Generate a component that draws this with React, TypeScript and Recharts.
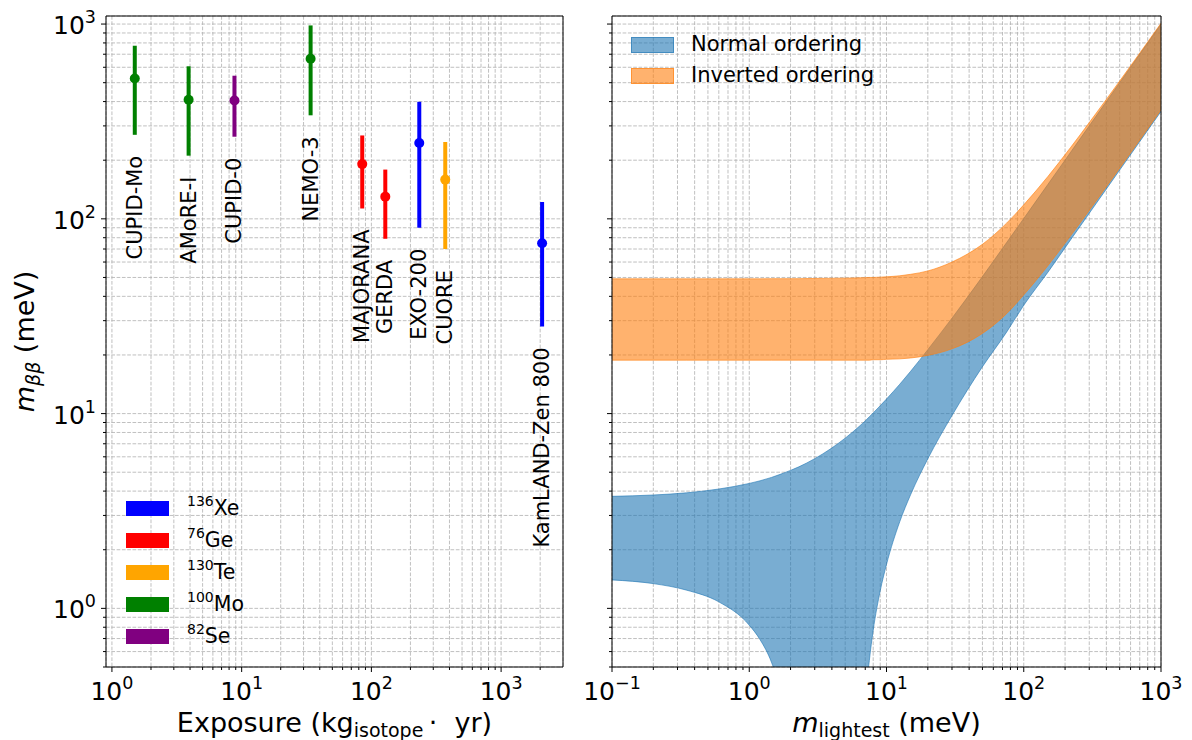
import {
  Area,
  CartesianGrid,
  ComposedChart,
  ErrorBar,
  Label,
  Legend,
  ReferenceLine,
  Scatter,
  ScatterChart,
  XAxis,
  YAxis,
} from 'recharts';

const FONT = '"DejaVu Sans", sans-serif';

// left panel: experiments
const experiments = ['CUPID-Mo', 'AMoRE-I', 'CUPID-0', 'NEMO-3', 'MAJORANA', 'GERDA', 'EXO-200', 'CUORE', 'KamLAND-Zen 800'];
const experimentIsotope = ['Mo', 'Mo', 'Se', 'Mo', 'Ge', 'Ge', 'Xe', 'Te', 'Xe'];
const exposure = [1.5, 3.9, 8.8, 34, 85, 128, 234, 371, 2070];
const mbbCentral = [525, 409, 405, 664, 191, 130, 245, 159, 75];
const mbbLow = [270, 211, 264, 340, 113, 79, 90, 70, 28];
const mbbHigh = [774, 607, 543, 984, 268, 179, 399, 248, 122];

const isotopes = ['Xe', 'Ge', 'Te', 'Mo', 'Se'];
const massNumbers = ['136', '76', '130', '100', '82'];
const isotopeColors = ['#0000ff', '#ff0000', '#ffa500', '#008000', '#800080'];

// right panel: allowed bands vs lightest mass
const mLightest = [0.1, 0.2, 0.35, 0.6, 1, 1.2, 1.45, 1.7, 2, 2.3, 3, 5, 6.4, 7, 7.5, 8, 9, 10, 12.5, 15, 20, 30, 50, 75, 100, 150, 220, 300, 500, 1000];
const normalLow = [1.4, 1.34, 1.24, 1.08, 0.82, 0.69, 0.53, 0.37, 0.19, 0.01, 0.01, 0.01, 0.02, 0.32, 0.54, 0.77, 1.23, 1.68, 2.79, 3.84, 5.86, 9.77, 17.4, 26.2, 36, 53.2, 78.2, 106.7, 178, 356];
const normalHigh = [3.76, 3.82, 3.92, 4.1, 4.38, 4.52, 4.7, 4.89, 5.11, 5.33, 5.87, 7.48, 8.66, 9.17, 9.63, 10.08, 10.98, 11.88, 14.16, 16.5, 21.3, 30.9, 50.5, 75.5, 100.4, 150.3, 220.2, 300.1, 500, 1000];
const invertedLow = [18.8, 18.8, 18.8, 18.8, 18.8, 18.8, 18.8, 18.8, 18.8, 18.8, 18.8, 18.8, 18.8, 18.8, 18.8, 18.9, 18.9, 19, 19.1, 19.3, 19.9, 21.5, 25.8, 32.6, 40.7, 57.5, 82, 110.4, 182, 362];
const invertedHigh = [49.2, 49.2, 49.2, 49.2, 49.2, 49.2, 49.3, 49.3, 49.3, 49.3, 49.4, 49.6, 49.8, 49.9, 50, 50, 50.2, 50.4, 51, 51.9, 54, 60, 74, 95, 118, 165, 233, 312, 510, 1010];
const bandNames = ['Normal ordering', 'Inverted ordering'];
const bandColors = ['#1f77b4', '#ff7f0e'];

const yTicks = [0.5, 0.6, 0.7, 0.8, 0.9, 1, 2, 3, 4, 5, 6, 7, 8, 9, 10, 20, 30, 40, 50, 60, 70, 80, 90, 100, 200, 300, 400, 500, 600, 700, 800, 900, 1000];
const exposureTicks = [1, 2, 3, 4, 5, 6, 7, 8, 9, 10, 20, 30, 40, 50, 60, 70, 80, 90, 100, 200, 300, 400, 500, 600, 700, 800, 900, 1000, 2000];
const lightestTicks = [0.1, 0.2, 0.3, 0.4, 0.5, 0.6, 0.7, 0.8, 0.9, 1, 2, 3, 4, 5, 6, 7, 8, 9, 10, 20, 30, 40, 50, 60, 70, 80, 90, 100, 200, 300, 400, 500, 600, 700, 800, 900, 1000];

const points = experiments.map((name, i) => ({
  name,
  isotope: experimentIsotope[i],
  x: exposure[i],
  y: mbbCentral[i],
  err: [mbbCentral[i] - mbbLow[i], mbbHigh[i] - mbbCentral[i]],
}));
const labelPoints = experiments.map((name, i) => ({ name, x: exposure[i], y: mbbLow[i] }));

const bandRows = mLightest.map((m, i) => ({
  m,
  normal: [normalLow[i], normalHigh[i]],
  inverted: [invertedLow[i], invertedHigh[i]],
}));

function isDecade(v: number) {
  const l = Math.log10(v);
  return Math.abs(l - Math.round(l)) < 1e-6;
}

function expText(v: number) {
  const e = Math.round(Math.log10(v));
  return e < 0 ? `\u2212${-e}` : `${e}`;
}

function YTick(props: any) {
  const { x, y, payload, showLabel } = props;
  const major = isDecade(payload.value);
  return (
    <g>
      <line x1={x} x2={x - (major ? 5 : 3)} y1={y} y2={y} stroke="#000" strokeWidth={1} />
      {major && showLabel && (
        <text x={x - 10} y={y + 10} textAnchor="end" fontFamily={FONT} fontSize={25} fill="#000">
          10
          <tspan fontSize={17.5} dy={-11}>
            {expText(payload.value)}
          </tspan>
        </text>
      )}
    </g>
  );
}

function XTick(props: any) {
  const { x, y, payload } = props;
  const major = isDecade(payload.value);
  return (
    <g>
      <line x1={x} x2={x} y1={y} y2={y + (major ? 5 : 3)} stroke="#000" strokeWidth={1} />
      {major && (
        <text x={x} y={y + 33} textAnchor="middle" fontFamily={FONT} fontSize={25} fill="#000">
          10
          <tspan fontSize={17.5} dy={-11}>
            {expText(payload.value)}
          </tspan>
        </text>
      )}
    </g>
  );
}

function renderMbbLabel(props: any) {
  const vb = props.viewBox || { x: 0, y: 16, width: 106, height: 651 };
  const cx = vb.x + 34;
  const cy = vb.y + vb.height / 2;
  return (
    <text transform={`translate(${cx},${cy}) rotate(-90)`} textAnchor="middle" fontFamily={FONT} fontSize={27} fill="#000">
      <tspan fontStyle="italic">m</tspan>
      <tspan fontStyle="italic" fontSize={19} dy={6}>
        ββ
      </tspan>
      <tspan dy={-6}>{'\u00a0(meV)'}</tspan>
    </text>
  );
}

function renderExposureLabel(props: any) {
  const vb = props.viewBox || { x: 106, y: 667, width: 457, height: 73 };
  return (
    <text x={vb.x + vb.width / 2} y={vb.y + 65} textAnchor="middle" fontFamily={FONT} fontSize={27} fill="#000">
      Exposure (kg
      <tspan fontSize={19} dy={5}>
        isotope
      </tspan>
      <tspan dy={-5}>{'\u2009\u00b7\u00a0\u00a0yr)'}</tspan>
    </text>
  );
}

function renderLightestLabel(props: any) {
  const vb = props.viewBox || { x: 32, y: 667, width: 549, height: 73 };
  return (
    <text x={vb.x + vb.width / 2} y={vb.y + 65} textAnchor="middle" fontFamily={FONT} fontSize={27} fill="#000">
      <tspan fontStyle="italic">m</tspan>
      <tspan fontSize={19} dy={5}>
        lightest
      </tspan>
      <tspan dy={-5}>{'\u00a0(meV)'}</tspan>
    </text>
  );
}

const dotShape = (p: any) => <circle cx={p.cx} cy={p.cy} r={5} fill={p.fill} />;

const nameShape = (p: any) => (
  <text
    transform={`translate(${p.cx},${p.cy + 21}) rotate(-90)`}
    textAnchor="end"
    dominantBaseline="central"
    fontFamily={FONT}
    fontSize={21}
    fill="#000"
  >
    {p.payload.name}
  </text>
);

function IsotopeLegend() {
  return (
    <div style={{ fontFamily: FONT, color: '#000' }}>
      {isotopes.map((iso, k) => (
        <div key={iso} style={{ display: 'flex', alignItems: 'center', height: 32 }}>
          <div style={{ width: 43, height: 15, background: isotopeColors[k] }} />
          <span style={{ marginLeft: 18, fontSize: 20.5, lineHeight: 1 }}>
            <span style={{ fontSize: 14, position: 'relative', top: -9 }}>{massNumbers[k]}</span>
            {iso}
          </span>
        </div>
      ))}
    </div>
  );
}

function OrderingLegend() {
  const rgba = ['rgba(31,119,180,0.6)', 'rgba(255,127,14,0.6)'];
  return (
    <div style={{ fontFamily: FONT, color: '#000' }}>
      {bandNames.map((name, k) => (
        <div key={name} style={{ display: 'flex', alignItems: 'center', height: 31 }}>
          <div
            style={{
              width: 43,
              height: 16,
              boxSizing: 'border-box',
              background: rgba[k],
              border: `1px solid ${rgba[k]}`,
            }}
          />
          <span style={{ marginLeft: 17, fontSize: 21, lineHeight: 1 }}>{name}</span>
        </div>
      ))}
    </div>
  );
}

function ExposurePanel() {
  return (
    <ScatterChart width={580} height={740} margin={{ top: 16, right: 17, bottom: 0, left: 0 }}>
      <CartesianGrid stroke="#b0b0b0" strokeWidth={0.8} strokeDasharray="3.7 1.6" />
      <XAxis
        type="number"
        dataKey="x"
        scale="log"
        domain={[0.9, 3000]}
        allowDataOverflow
        ticks={exposureTicks}
        interval={0}
        tick={(p: any) => <XTick {...p} />}
        tickLine={false}
        tickSize={0}
        tickMargin={0}
        height={73}
        axisLine={{ stroke: '#000' }}
      >
        <Label content={renderExposureLabel} />
      </XAxis>
      <YAxis
        type="number"
        dataKey="y"
        scale="log"
        domain={[0.5, 1100]}
        allowDataOverflow
        ticks={yTicks}
        interval={0}
        tick={(p: any) => <YTick {...p} showLabel />}
        tickLine={false}
        tickSize={0}
        tickMargin={0}
        width={106}
        axisLine={{ stroke: '#000' }}
      >
        <Label content={renderMbbLabel} />
      </YAxis>
      <ReferenceLine y={1100} stroke="#000" strokeWidth={1} />
      <ReferenceLine x={3000} stroke="#000" strokeWidth={1} />
      {isotopes.map((iso, k) => (
        <Scatter
          key={iso}
          name={iso}
          data={points.filter((p) => p.isotope === iso)}
          fill={isotopeColors[k]}
          shape={dotShape}
          isAnimationActive={false}
        >
          <ErrorBar dataKey="err" direction="y" width={0} strokeWidth={4} stroke={isotopeColors[k]} isAnimationActive={false} />
        </Scatter>
      ))}
      <Scatter name="labels" data={labelPoints} shape={nameShape} legendType="none" isAnimationActive={false} />
      <Legend
        layout="vertical"
        align="center"
        verticalAlign="middle"
        wrapperStyle={{ left: 126, top: 492, width: 160 }}
        content={() => <IsotopeLegend />}
      />
    </ScatterChart>
  );
}

function LightestPanel() {
  return (
    <ComposedChart width={612} height={740} data={bandRows} margin={{ top: 16, right: 31, bottom: 0, left: 0 }}>
      <CartesianGrid stroke="#b0b0b0" strokeWidth={0.8} strokeDasharray="3.7 1.6" />
      <XAxis
        type="number"
        dataKey="m"
        scale="log"
        domain={[0.1, 1000]}
        allowDataOverflow
        ticks={lightestTicks}
        interval={0}
        tick={(p: any) => <XTick {...p} />}
        tickLine={false}
        tickSize={0}
        tickMargin={0}
        height={73}
        axisLine={{ stroke: '#000' }}
      >
        <Label content={renderLightestLabel} />
      </XAxis>
      <YAxis
        type="number"
        scale="log"
        domain={[0.5, 1100]}
        allowDataOverflow
        ticks={yTicks}
        interval={0}
        tick={(p: any) => <YTick {...p} showLabel={false} />}
        tickLine={false}
        tickSize={0}
        tickMargin={0}
        width={32}
        axisLine={{ stroke: '#000' }}
      />
      <ReferenceLine y={1100} stroke="#000" strokeWidth={1} />
      <ReferenceLine x={1000} stroke="#000" strokeWidth={1} />
      <Area
        dataKey="normal"
        name={bandNames[0]}
        type="monotone"
        fill={bandColors[0]}
        fillOpacity={0.6}
        stroke={bandColors[0]}
        strokeOpacity={0.6}
        strokeWidth={1}
        dot={false}
        activeDot={false}
        isAnimationActive={false}
      />
      <Area
        dataKey="inverted"
        name={bandNames[1]}
        type="monotone"
        fill={bandColors[1]}
        fillOpacity={0.6}
        stroke={bandColors[1]}
        strokeOpacity={0.6}
        strokeWidth={1}
        dot={false}
        activeDot={false}
        isAnimationActive={false}
      />
      <Legend
        layout="vertical"
        align="center"
        verticalAlign="middle"
        wrapperStyle={{ left: 51, top: 29, width: 260 }}
        content={() => <OrderingLegend />}
      />
    </ComposedChart>
  );
}

export default function App() {
  return (
    <div
      style={{
        position: 'absolute',
        left: 0,
        top: 0,
        width: 1192,
        height: 740,
        background: '#fff',
        fontFamily: FONT,
      }}
    >
      <div style={{ position: 'absolute', left: 0, top: 0 }}>
        <ExposurePanel />
      </div>
      <div style={{ position: 'absolute', left: 580, top: 0 }}>
        <LightestPanel />
      </div>
    </div>
  );
}
